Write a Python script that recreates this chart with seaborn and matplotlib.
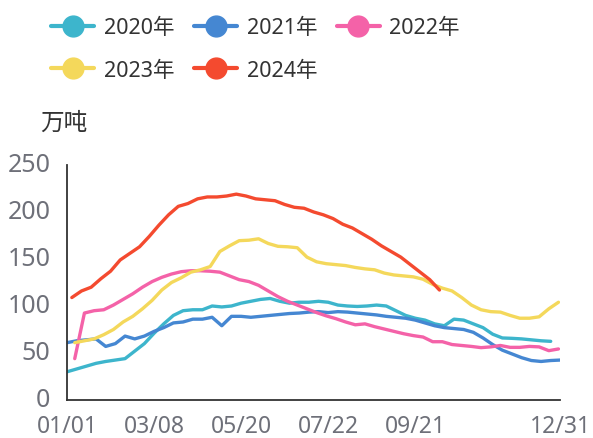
import numpy as np
import pandas as pd
import matplotlib
matplotlib.use("Agg")
import matplotlib.pyplot as plt
import matplotlib.transforms as mtransforms
from matplotlib.lines import Line2D
import seaborn as sns

# ---------------- data ----------------
years = ["2020年", "2021年", "2022年", "2023年", "2024年"]
colors = ["#3db5cc", "#4587d2", "#f462a8", "#f4d85b", "#f44a2f"]

# first observation, in weeks after 01/01
start_week = {"2020年": 0.0, "2021年": 0.0, "2022年": 0.8, "2023年": 0.8, "2024年": 0.5}

v2020 = [30, 33, 36, 39, 41, 42.5, 44, 52, 60, 71, 81, 90, 95, 96, 96, 100, 99, 100,
         103, 105, 107, 108, 105, 103, 104, 104, 105, 104, 101, 100, 99.5, 100, 101,
         100, 95, 90, 87, 85, 81, 79, 86, 85, 81, 77, 70, 66, 65.6, 65, 64, 63, 62.4]
v2021 = [61, 63, 64, 65, 57, 60, 68, 65, 68, 73, 77, 82, 83, 86, 86, 88, 79, 89, 89,
         88, 89, 90, 91, 92, 92.5, 93.5, 94, 93, 94, 93.5, 92.5, 91.5, 90.5, 89, 88,
         87, 85, 82, 79, 77, 76, 75, 72, 66, 59, 53, 49, 45, 42, 41, 42, 42.5]
v2022 = [44, 92.5, 95, 96, 101, 107, 113, 120, 126, 130.5, 134, 136.5, 137.5, 137.5,
         137, 136, 132, 128, 126, 122, 116, 110, 105, 101, 97, 93, 89.5, 86.5, 83, 80,
         81, 78, 75.5, 73, 70.5, 68.5, 67, 62, 62, 59, 58, 57, 55.7, 56.5, 58, 56, 56,
         57, 56.5, 52.5, 54.3]
v2023 = [61, 63, 65, 69.5, 75, 83, 89, 97, 106, 117, 125, 130, 136, 138.5, 142, 158,
         164, 169.5, 170, 171.5, 166.5, 163.5, 163, 162, 152, 147, 145, 144, 143, 141,
         139.5, 138.5, 135, 133, 132, 131, 128.5, 123, 119, 116, 109, 101, 96, 94, 93.5,
         90, 87, 87, 88.5, 97, 104]
v2024 = [109, 116, 120, 129, 137, 149, 156, 163, 174, 186, 197, 206, 209, 214, 216,
         216, 217, 219, 217, 214, 213, 212, 208, 205, 204, 200, 197, 193, 187, 183,
         177, 171, 164, 158, 152, 144, 136, 128, 117]

series = {"2020年": v2020, "2021年": v2021, "2022年": v2022, "2023年": v2023, "2024年": v2024}

tick_pos = [0, 9, 18, 27, 36, 45, 51]
tick_labels = ["01/01", "03/08", "05/20", "07/22", "09/21", "", "12/31"]
y_ticks = [0, 50, 100, 150, 200, 250]
unit_label = "万吨"

rows = []
for y in years:
    vals = series[y]
    for k, v in enumerate(vals):
        rows.append({"year": y, "week": start_week[y] + k, "value": v})
df = pd.DataFrame(rows)

# ---------------- plot ----------------
sns.set_theme(style="white")
plt.rcParams["font.family"] = ["Noto Sans", "Noto Sans CJK SC", "DejaVu Sans"]

W, H = 593, 439
fig = plt.figure(figsize=(W / 100, H / 100), dpi=100)
ax = fig.add_axes([67 / W, 1 - 401 / H, (560.4 - 67) / W, (401 - 166) / H])

sns.lineplot(data=df, x="week", y="value", hue="year", hue_order=years,
             palette=colors, linewidth=2.4, legend=False, ax=ax, sort=True)

ax.set_xlim(0, 51)
ax.set_ylim(0, 250)
ax.set_xticks(tick_pos)
ax.set_xticklabels(tick_labels)
ax.set_yticks(y_ticks)
ax.set_xlabel("")
ax.set_ylabel("")

for s in ["top", "right"]:
    ax.spines[s].set_visible(False)
for s in ["left", "bottom"]:
    ax.spines[s].set_color("#333333")
    ax.spines[s].set_linewidth(1.3)

lab_color = "#6e7079"
ax.tick_params(axis="y", direction="in", length=7, width=1.3, color="#333333",
               labelsize=18, labelcolor=lab_color, pad=12)
ax.tick_params(axis="x", direction="out", length=6, width=1.3, color="#333333",
               labelsize=16.5, labelcolor=lab_color, pad=4)

# nudge y tick labels up a little so "0" clears the "01/01" label
shift = mtransforms.ScaledTranslation(0, 3 / 100, fig.dpi_scale_trans)
for lab in ax.get_yticklabels():
    lab.set_transform(lab.get_transform() + shift)

fig.text(64 / W, 1 - 124 / H, unit_label, ha="center", va="center",
         fontsize=17, color="#333333")

# legend laid out row by row (matplotlib fills columns first)
order = [0, 3, 1, 4, 2]
handles = [Line2D([0], [0], color=c, lw=3, marker="o", markersize=15,
                  markerfacecolor=c, markeredgecolor=c) for c in colors]
fig.legend([handles[i] for i in order], [years[i] for i in order], ncol=3,
           loc="upper left", bbox_to_anchor=(32 / W, 1 + 1 / H), frameon=False,
           fontsize=15.5, handlelength=2.0, handletextpad=0.45,
           columnspacing=0.9, labelspacing=1.0, labelcolor="#333333")

fig.savefig("out.png", dpi=100)
